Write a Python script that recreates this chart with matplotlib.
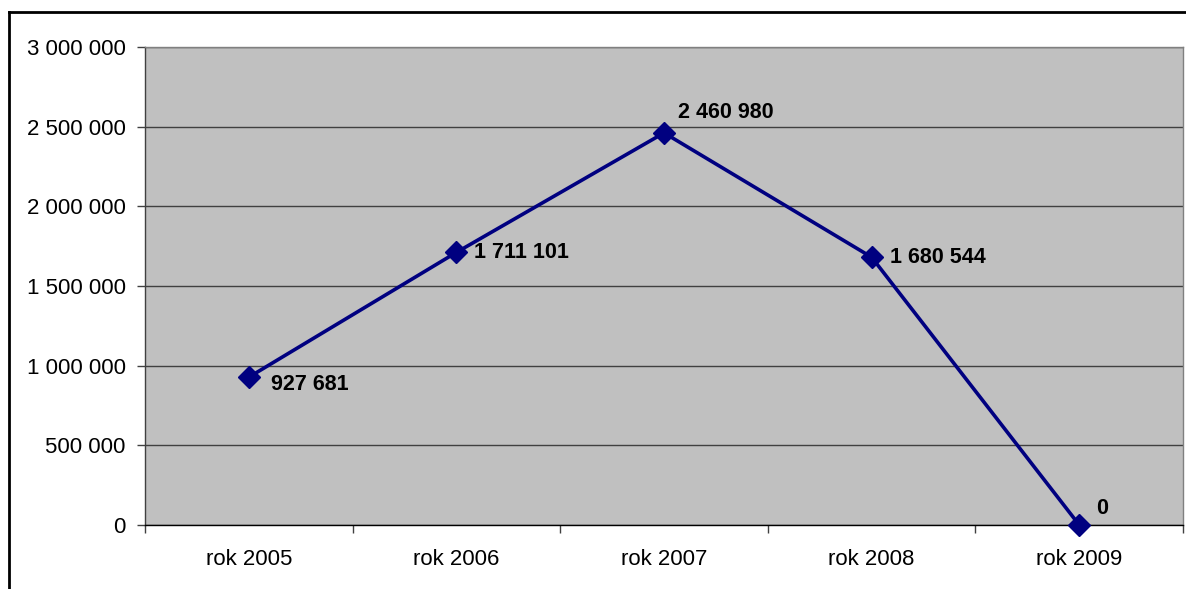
import matplotlib.pyplot as plt
from matplotlib.lines import Line2D
from matplotlib.ticker import FuncFormatter, FixedLocator

plt.rcParams['font.family'] = ['Liberation Sans', 'DejaVu Sans']

years = ['rok 2005', 'rok 2006', 'rok 2007', 'rok 2008', 'rok 2009']
values = [927681, 1711101, 2460980, 1680544, 0]
yticks = [0, 500000, 1000000, 1500000, 2000000, 2500000, 3000000]

# label offsets in points (dx, dy), as Excel placed them
label_offsets = [(16, -5), (13, 0), (10, 15), (13, 0), (12, 12)]


def space_thousands(v, pos=None):
    return f'{int(v):,}'.replace(',', ' ')


fig = plt.figure(figsize=(11.86, 5.89), dpi=100)
ax = fig.add_axes([0.1223, 0.1087, 0.8752, 0.8115])
ax.set_facecolor('#c0c0c0')

x = list(range(len(years)))
ax.plot(x, values, color='#000080', linewidth=2.6, marker='D', markersize=11,
        zorder=3, clip_on=False)

for xi, v, (dx, dy) in zip(x, values, label_offsets):
    ax.annotate(space_thousands(v), (xi, v), xytext=(dx, dy), textcoords='offset points',
                ha='left', va='center', fontsize=15.5, fontweight='bold', color='black')

ax.set_xlim(-0.5, len(years) - 0.5)
ax.set_ylim(0, 3000000)
ax.yaxis.set_major_locator(FixedLocator(yticks))
ax.yaxis.set_major_formatter(FuncFormatter(space_thousands))
ax.grid(axis='y', color='#404040', linewidth=1)
ax.set_axisbelow(True)

ax.set_xticks([i - 0.5 for i in range(len(years) + 1)])
ax.set_xticklabels([])
ax.set_xticks(x, minor=True)
ax.set_xticklabels(years, minor=True)
ax.tick_params(axis='x', which='minor', length=0, pad=17, labelsize=16)
ax.tick_params(axis='x', which='major', length=6, width=1, color='#404040', direction='out')
ax.tick_params(axis='y', length=6, width=1, color='#404040', labelsize=16, pad=8)

ax.spines['left'].set_color('#404040')
ax.spines['bottom'].set_color('black')
ax.spines['top'].set_color('#808080')
ax.spines['right'].set_color('#808080')
for s in ax.spines.values():
    s.set_linewidth(1)

# outer chart border (left and top visible)
fig.add_artist(Line2D([9 / 1186, 9 / 1186], [0, 1 - 12 / 589], color='black', linewidth=2,
                      transform=fig.transFigure))
fig.add_artist(Line2D([9 / 1186, 1], [1 - 12 / 589, 1 - 12 / 589], color='black', linewidth=2,
                      transform=fig.transFigure))

fig.savefig('out.png', dpi=100)
